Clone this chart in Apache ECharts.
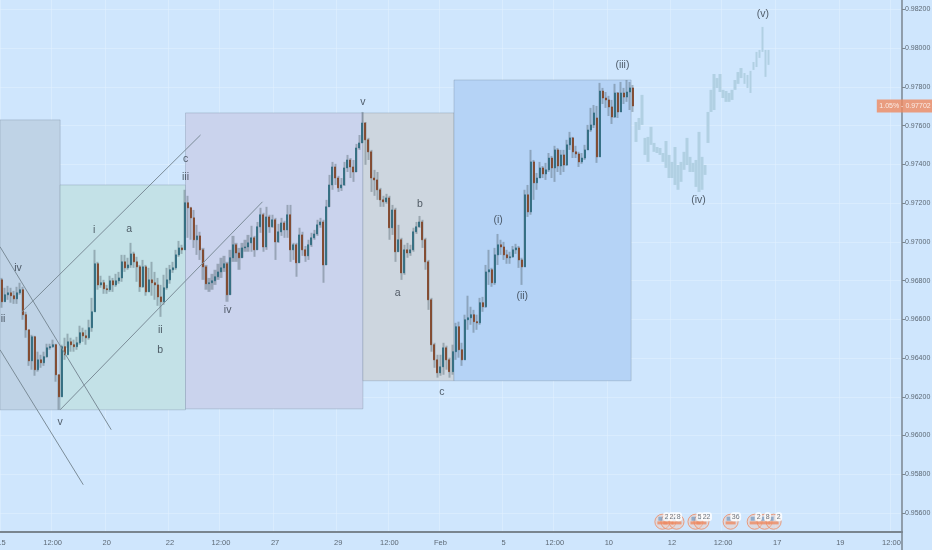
<!DOCTYPE html>
<html><head><meta charset="utf-8">
<style>html,body{margin:0;padding:0;background:#cfe6fd}#c{width:932px;height:550px}</style>
<script src="https://cdn.jsdelivr.net/npm/echarts@6/dist/echarts.min.js"></script>
</head><body><div id="c"></div>
<script>
// Quotes are in 1e-5 price units (96804 = 0.96804)
const opens=[96804,96691,96727,96737,96722,96706,96737,96753,96624,96546,96386,96510,96340,96391,96376,96407,96453,96459,96469,96314,96200,96459,96417,96484,96469,96459,96479,96531,96515,96505,96557,96639,96887,96778,96789,96758,96753,96799,96778,96799,96814,96897,96866,96881,96938,96897,96871,96768,96871,96742,96804,96789,96778,96716,96691,96763,96804,96856,96866,96933,96969,96959,97202,97176,97124,97011,97031,96959,96871,96784,96789,96799,96820,96845,96866,96887,96727,96918,96985,96943,96918,96969,96974,96995,97021,96959,97078,97140,96974,97129,97078,97114,97000,97052,97098,97062,97140,96959,96985,96892,97036,96959,96928,96985,97021,97041,97088,97103,96881,97181,97294,97387,97330,97279,97294,97382,97423,97387,97361,97485,97511,97614,97527,97465,97330,97320,97269,97217,97207,97227,97073,97165,96949,97011,96840,96959,96943,96959,97052,97078,97103,97011,96897,96701,96469,96391,96324,96355,96453,96391,96330,96433,96562,96443,96391,96598,96608,96624,96588,96582,96686,96665,96845,96856,96789,96933,96985,96974,96933,96918,96923,96959,96969,96907,96871,97243,97155,97413,97305,97330,97382,97351,97372,97433,97382,97475,97392,97449,97397,97501,97537,97465,97454,97413,97433,97475,97578,97604,97640,97439,97779,97743,97733,97697,97645,97769,97671,97769,97748,97774,97795];
const closes=[96691,96727,96737,96722,96706,96737,96753,96624,96546,96386,96510,96340,96391,96376,96407,96453,96459,96469,96314,96200,96459,96417,96484,96469,96459,96479,96531,96515,96505,96557,96639,96887,96778,96789,96758,96753,96799,96778,96799,96814,96897,96866,96881,96938,96897,96871,96768,96871,96742,96804,96789,96778,96716,96691,96763,96804,96856,96866,96933,96969,96959,97202,97176,97124,97011,97031,96959,96871,96784,96789,96799,96820,96845,96866,96887,96727,96918,96985,96943,96918,96969,96974,96995,97021,96959,97078,97140,96974,97129,97078,97114,97000,97052,97098,97062,97140,96959,96985,96892,97036,96959,96928,96985,97021,97041,97088,97103,96881,97181,97294,97387,97330,97279,97294,97382,97423,97387,97361,97485,97511,97614,97527,97465,97330,97320,97269,97217,97207,97227,97073,97165,96949,97011,96840,96959,96943,96959,97052,97078,97103,97011,96897,96701,96469,96391,96324,96355,96453,96391,96330,96433,96562,96443,96391,96598,96608,96624,96588,96582,96686,96665,96845,96856,96789,96933,96985,96974,96933,96918,96923,96959,96969,96907,96871,97243,97155,97413,97305,97330,97382,97351,97372,97433,97382,97475,97392,97449,97397,97501,97537,97465,97454,97413,97433,97475,97578,97604,97666,97439,97779,97743,97733,97697,97645,97769,97671,97769,97748,97774,97795,97702];
const highs=[96814,96763,96773,96763,96747,96768,96789,96768,96639,96546,96520,96515,96433,96417,96433,96474,96474,96495,96474,96314,96469,96505,96526,96505,96495,96510,96567,96557,96546,96598,96711,96959,96897,96825,96804,96778,96825,96814,96835,96845,96933,96933,96918,96995,96949,96923,96881,96907,96881,96866,96897,96845,96814,96778,96830,96866,96881,96897,96959,97005,96985,97269,97238,97181,97165,97088,97052,96969,96881,96814,96835,96856,96887,96918,96928,96897,96959,97031,96995,96969,96995,97011,97036,97083,97031,97103,97176,97150,97181,97140,97140,97124,97093,97124,97109,97191,97191,96995,96995,97073,97052,96979,97011,97047,97062,97114,97124,97114,97217,97346,97413,97403,97341,97330,97413,97449,97433,97423,97506,97552,97671,97619,97537,97475,97372,97361,97279,97238,97248,97238,97191,97176,97088,97021,96985,96995,96985,97073,97103,97134,97114,97021,96907,96711,96479,96417,96417,96479,96464,96402,96469,96582,96588,96479,96624,96722,96665,96649,96624,96711,96716,96881,96959,96866,96969,97041,97011,97000,96959,96949,96979,96990,96979,96918,97269,97294,97475,97423,97356,97413,97392,97408,97459,97444,97496,97485,97475,97475,97527,97568,97542,97496,97465,97459,97501,97604,97692,97707,97702,97821,97795,97774,97754,97733,97816,97774,97826,97795,97836,97826,97810];
const lows=[96660,96691,96701,96686,96680,96680,96727,96598,96505,96360,96340,96309,96330,96350,96360,96402,96443,96453,96278,96133,96200,96391,96453,96433,96433,96443,96469,96484,96469,96495,96536,96639,96753,96763,96732,96732,96742,96742,96768,96784,96794,96845,96856,96866,96866,96794,96742,96763,96722,96742,96722,96701,96670,96613,96675,96753,96784,96840,96856,96923,96938,96959,97021,97011,96969,96933,96907,96804,96753,96742,96753,96778,96804,96814,96845,96691,96727,96897,96897,96856,96918,96949,96949,96949,96923,96959,97047,96949,96959,97047,97073,96907,96995,97031,97021,97021,96897,96907,96820,96892,96928,96897,96907,96974,97011,97031,97073,96789,96881,97181,97269,97294,97258,97263,97289,97361,97330,97310,97361,97475,97511,97398,97423,97258,97238,97217,97181,97181,97197,97011,97036,96897,96949,96804,96830,96918,96928,96949,97041,97073,96969,96856,96649,96433,96350,96299,96309,96314,96340,96299,96314,96391,96402,96360,96391,96546,96572,96531,96546,96572,96639,96660,96778,96768,96778,96881,96933,96907,96887,96887,96918,96938,96866,96778,96871,97129,97140,97217,97269,97330,97330,97320,97361,97330,97310,97361,97346,97361,97392,97475,97433,97433,97387,97403,97423,97475,97568,97588,97408,97439,97712,97692,97650,97609,97640,97640,97671,97712,97723,97681,97671];
// Pale projected path, first bar at index projectionStart
const projectionStart=211;
const projectionHighs=[97619,97640,97759,97537,97542,97594,97511,97490,97485,97459,97521,97449,97413,97490,97397,97413,97465,97537,97439,97408,97423,97568,97439,97397,97671,97785,97867,97846,97867,97785,97779,97769,97785,97836,97877,97898,97872,97862,97883,97929,97981,97991,98110,97991,97991];
const projectionLows=[97516,97578,97604,97449,97413,97501,97465,97459,97449,97413,97382,97330,97330,97294,97269,97310,97372,97397,97361,97361,97284,97258,97269,97346,97511,97671,97681,97795,97774,97743,97723,97723,97733,97785,97816,97846,97816,97795,97769,97888,97903,97950,97981,97852,97914];
const barCount=300;
const timeTickIndex=[0,17,35,56,73,91,112,129,146,167,184,202,223,240,258,279,296];
const timeTickLabels=['15','12:00','20','22','12:00','27','29','12:00','Feb','5','12:00','10','12','12:00','17','19','12:00'];
const priceTicks=[0.956,0.958,0.96,0.962,0.964,0.966,0.968,0.97,0.972,0.974,0.976,0.978,0.98,0.982];
const lastPrice=0.97702, lastChange='1.05%';
// Annotations: [first bar, last bar, top price, bottom price, colour]
const zones=[[-0.5,19.5,0.97630,0.96133,'#bfd3e6'],[19.5,61.2,0.97294,0.96133,'#c3e1e7'],[61.2,120.2,0.97666,0.96138,'#cad3ed'],[120.2,150.5,0.97666,0.96283,'#cdd6df'],[150.5,209.4,0.97836,0.96283,'#b5d3f6']];
// Trend lines: [bar, price, bar, price]
const trendLines=[[19.5,0.96133,86.8,0.97207],[6.8,0.96639,66.2,0.97552],[-0.5,0.96975,36.5,0.96030],[-0.5,0.96443,27.2,0.95746]];
const waveLabels=[['ii',0.5,0.96603],['iv',5.5,0.96866],['v',19.5,0.96071],['i',30.8,0.97062],['a',42.5,0.97067],['ii',52.8,0.96546],['b',52.8,0.96443],['c',61.2,0.97429],['iii',61.2,0.97336],['iv',75.2,0.96649],['v',120.2,0.97723],['b',139.2,0.97196],['a',131.8,0.96737],['c',146.5,0.96226],['(i)',165.2,0.97114],['(ii)',173.2,0.96722],['(iii)',206.5,0.97914],['(iv)',231.8,0.97217],['(v)',253.2,0.98177]];
const eventIcons=[219.8,221.8,224.5,230.8,232.8,242.5,250.5,253.8,256.8];
const eventCounts=[[221.2,'2'],[223.5,'22'],[225.2,'8'],[232.2,'5'],[234.5,'22'],[244.2,'36'],[251.8,'2'],[254.8,'8'],[258.5,'2']];
const eventIconPrice=0.95555, eventCountPrice=0.95581;

const UI='"Liberation Sans",sans-serif';
const p=v=>v/1e5;
const cats=Array.from({length:barCount},(_,i)=>{const k=timeTickIndex.indexOf(i);return k<0?'':timeTickLabels[k];});
const isTick=i=>timeTickIndex.includes(i);
const blank=n=>Array(n).fill('-');
const wicks=highs.map((h,i)=>[p(lows[i]),p(h),p(lows[i]),p(h)]);
const bodies=opens.map((o,i)=>[p(o),p(closes[i]),p(Math.min(o,closes[i])),p(Math.max(o,closes[i]))]);
const proj=blank(projectionStart).concat(projectionHighs.map((h,i)=>[p(projectionLows[i]),p(h),p(projectionLows[i]),p(h)]));
const faint='rgba(226,241,255,0.55)';
const chart=echarts.init(document.getElementById('c'),null,{renderer:'canvas'});
chart.setOption({
 animation:false,backgroundColor:'#cfe6fd',
 grid:{left:0,right:30,top:0,bottom:18,outerBoundsMode:'none',containLabel:false},
 xAxis:[{type:'category',data:cats,boundaryGap:true,
   axisLine:{onZero:false,lineStyle:{color:'#79858f',width:2}},
   axisTick:{interval:(i)=>isTick(i),alignWithLabel:true,length:3,lineStyle:{color:'#79858f'}},
   axisLabel:{interval:(i)=>isTick(i),color:'#5d6975',fontSize:7.5,fontFamily:UI,margin:7,hideOverlap:false},
   splitLine:{show:true,interval:(i)=>isTick(i),lineStyle:{color:faint,width:1}}},
  {type:'value',min:-0.5,max:barCount-0.5,show:false}],
 yAxis:{type:'value',position:'right',min:0.95502,max:0.98249,scale:true,
   axisLine:{show:true,onZero:false,lineStyle:{color:'#79858f',width:1.5}},
   axisTick:{show:true,length:3,customValues:priceTicks,lineStyle:{color:'#79858f'}},
   axisLabel:{customValues:priceTicks,formatter:v=>v.toFixed(5),color:'#5d6975',fontSize:7,fontFamily:UI,margin:3},
   splitLine:{show:true,lineStyle:{color:faint,width:1}}},
 series:[
  {type:'line',xAxisIndex:1,data:[],z:1,silent:true,
   markArea:{silent:true,data:zones.map(z=>[{coord:[z[0],z[2]],itemStyle:{color:z[4],borderColor:'rgba(110,130,150,0.3)',borderWidth:1}},{coord:[z[1],z[3]]}])}},
  {type:'candlestick',name:'wicks',data:wicks,barWidth:2.6,z:3,silent:true,
   itemStyle:{color:'rgba(84,100,110,0.42)',color0:'rgba(84,100,110,0.42)',borderColor:'rgba(84,100,110,0)',borderColor0:'rgba(84,100,110,0)',borderWidth:0}},
  {type:'candlestick',name:'bodies',data:bodies,barWidth:1.5,z:4,silent:true,
   itemStyle:{color:'#1f7e9c',color0:'#ad4f22',borderColor:'#2d6678',borderColor0:'#7a4024',borderWidth:0.8}},
  {type:'candlestick',name:'projection',data:proj,barWidth:2.8,z:3,silent:true,
   itemStyle:{color:'#b1d0e3',color0:'#b1d0e3',borderColor:'#b1d0e3',borderColor0:'#b1d0e3',borderWidth:0}},
  {type:'line',xAxisIndex:1,data:[],z:5,silent:true,
   markLine:{silent:true,symbol:'none',label:{show:false},lineStyle:{color:'#7b8c98',width:1,type:'solid'},
     data:trendLines.map(l=>[{coord:[l[0],l[1]]},{coord:[l[2],l[3]]}])}},
  {type:'scatter',xAxisIndex:1,z:6,symbolSize:0,silent:true,data:waveLabels.map(w=>({value:[w[1],w[2]],name:w[0]})),
   label:{show:true,position:'inside',formatter:o=>o.name,color:'#2f3a45',fontSize:10.5,fontFamily:UI}},
  {type:'scatter',xAxisIndex:1,z:7,symbol:'circle',symbolSize:15,silent:true,data:eventIcons.map(x=>[x,eventIconPrice]),
   itemStyle:{color:'rgba(240,200,185,0.55)',borderColor:'#ee8a62',borderWidth:1}},
  {type:'scatter',xAxisIndex:1,z:8,symbol:'rect',symbolSize:[10,3],silent:true,data:eventIcons.map(x=>[x,eventIconPrice-0.00006]),
   itemStyle:{color:'#ee8a62'}},
  {type:'scatter',xAxisIndex:1,z:8,symbol:'rect',symbolSize:[4,4],symbolOffset:[-2,-3],silent:true,data:eventIcons.map(x=>[x,eventIconPrice]),
   itemStyle:{color:'#7da0c4'}},
  {type:'scatter',xAxisIndex:1,z:9,symbolSize:0,silent:true,data:eventCounts.map(e=>({value:[e[0],eventCountPrice],name:e[1]})),
   label:{show:true,position:'inside',formatter:o=>o.name,color:'#4a5560',fontSize:7,fontFamily:UI,backgroundColor:'#fff',borderRadius:3,padding:[1,1.5]}},
  {type:'scatter',xAxisIndex:1,z:20,symbolSize:0,silent:true,clip:false,data:[{value:[barCount-0.5,lastPrice],name:lastChange+' - '+lastPrice.toFixed(5)}],
   label:{show:true,position:'inside',offset:[3,0],formatter:o=>o.name,color:'#fff',fontSize:7,fontFamily:UI,backgroundColor:'#ef8a5f',padding:[3,2.5]}},
 ],
 graphic:[{type:'line',shape:{x1:902,y1:532,x2:902,y2:550},style:{stroke:'#79858f',lineWidth:1.5},silent:true}]
});
</script></body></html>
